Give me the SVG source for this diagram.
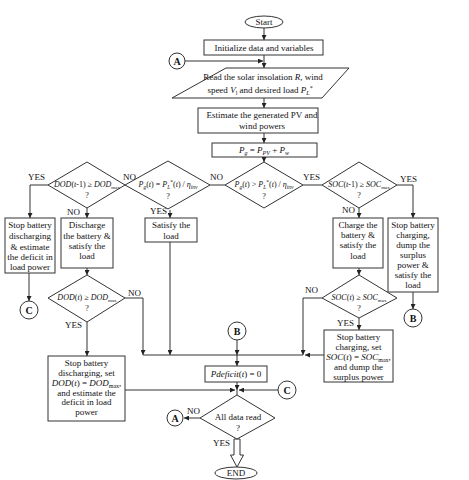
<svg xmlns="http://www.w3.org/2000/svg" width="469" height="480" viewBox="0 0 469 480">
<defs>
<marker id="ah" viewBox="0 0 6 6" refX="6" refY="3" markerWidth="5" markerHeight="5" orient="auto" markerUnits="userSpaceOnUse"><path d="M0,0 L6,3 L0,6 z" fill="#222"/></marker>
<style>
.box{fill:#fff;stroke:#333;stroke-width:1}
.ln{fill:none;stroke:#333;stroke-width:1}
.t{font-family:"Liberation Serif",serif;font-size:9px;text-anchor:middle;fill:#111}
.m{font-family:"Liberation Serif",serif;font-size:8px;text-anchor:middle;fill:#111}
.i{font-style:italic}
.lb{font-family:"Liberation Serif",serif;font-size:9px;fill:#111}
.c{font-family:"Liberation Serif",serif;font-size:10px;font-weight:bold;text-anchor:middle;fill:#111}
</style>
</defs>
<rect width="469" height="480" fill="#fff"/>

<g id="connectors">
<path class="ln" d="M264,28 V40" marker-end="url(#ah)"/>
<path class="ln" d="M264,55 V68" marker-end="url(#ah)"/>
<path class="ln" d="M185,61 H263" marker-end="url(#ah)"/>
<path class="ln" d="M264,98 V108" marker-end="url(#ah)"/>
<path class="ln" d="M264,133 V143" marker-end="url(#ah)"/>
<path class="ln" d="M264,157 V162" marker-end="url(#ah)"/>
<path class="ln" d="M225,185 H210"/>
<path class="ln" d="M48,185 H30 V218" marker-end="url(#ah)"/>
<path class="ln" d="M87,208 V218" marker-end="url(#ah)"/>
<path class="ln" d="M29,273 V301" marker-end="url(#ah)"/>
<path class="ln" d="M87,268 V275" marker-end="url(#ah)"/>
<path class="ln" d="M125,298 H143 V355" marker-end="url(#ah)"/>
<path class="ln" d="M87,322 V356" marker-end="url(#ah)"/>
<path class="ln" d="M170,210 V218" marker-end="url(#ah)"/>
<path class="ln" d="M170,242 V355" marker-end="url(#ah)"/>
<path class="ln" d="M303,185 H322"/>
<path class="ln" d="M397,185 H413 V218" marker-end="url(#ah)"/>
<path class="ln" d="M359,208 V218" marker-end="url(#ah)"/>
<path class="ln" d="M359,268 V275" marker-end="url(#ah)"/>
<path class="ln" d="M322,298 H303 V355" marker-end="url(#ah)"/>
<path class="ln" d="M359,318 V330" marker-end="url(#ah)"/>
<path class="ln" d="M324,355 H305" marker-end="url(#ah)"/>
<path class="ln" d="M143,355 H303"/>
<path class="ln" d="M413,292 V309" marker-end="url(#ah)"/>
<path class="ln" d="M237,340 V355" marker-end="url(#ah)"/>
<path class="ln" d="M237,355 V366" marker-end="url(#ah)"/>
<path class="ln" d="M237,382 V390" marker-end="url(#ah)"/>
<path class="ln" d="M237,390 V395"/>
<path class="ln" d="M125,390 H235" marker-end="url(#ah)"/>
<path class="ln" d="M278,390 H239" marker-end="url(#ah)"/>
<path class="ln" d="M200,418 H184" marker-end="url(#ah)"/>
<path class="box" d="M234,439 H240 V455 H243.5 L237,467 L230.5,455 H234 Z"/>
</g>

<g id="start"><ellipse class="box" cx="264" cy="22" rx="19" ry="6"/><text class="t" x="264" y="25">Start</text></g>
<g id="init"><rect class="box" x="204" y="40" width="119" height="15"/><text class="t" x="264" y="50.5">Initialize data and variables</text></g>
<g id="connA1"><circle class="box" cx="177" cy="61" r="8"/><text class="c" x="177" y="64.5">A</text></g>
<g id="read"><path class="box" d="M226,68 H349 L322,98 H172 Z"/>
<text class="t" x="263" y="80">Read the solar insolation <tspan class="i">R</tspan>, wind</text>
<text class="t" x="260" y="93">speed <tspan class="i">V</tspan><tspan font-size="6" dy="1.5">l</tspan><tspan dy="-1.5"> and desired load </tspan><tspan class="i">P</tspan><tspan font-size="6" class="i" dy="2">L</tspan><tspan font-size="6" dy="-5">*</tspan></text></g>
<g id="estimate"><rect class="box" x="198" y="108" width="120" height="25"/><text class="t" x="262" y="118">Estimate the generated PV and</text><text class="t" x="262" y="129">wind powers</text></g>
<g id="pg"><rect class="box" x="212" y="143" width="105" height="14"/><text class="t" x="264" y="153"><tspan class="i">P</tspan><tspan class="i" font-size="6" dy="2">g</tspan><tspan dy="-2"> = </tspan><tspan class="i">P</tspan><tspan class="i" font-size="6" dy="2">PV</tspan><tspan dy="-2"> + </tspan><tspan class="i">P</tspan><tspan class="i" font-size="6" dy="2">w</tspan></text></g>

<g id="d1"><path class="box" d="M87,162 L125,185 L87,208 L48,185 Z"/><text class="m" x="87" y="187"><tspan class="i">DOD</tspan>(<tspan class="i">t</tspan>-1) ≥ <tspan class="i">DOD</tspan><tspan font-size="5" dy="1.5">max</tspan></text><text class="m" x="87" y="198">?</text></g>
<g id="d2"><path class="box" d="M168,161 L210,185 L168,209 L125,185 Z"/><text class="m" x="168" y="187"><tspan class="i">P</tspan><tspan class="i" font-size="5.5" dy="2">g</tspan><tspan dy="-2">(</tspan><tspan class="i">t</tspan>) = <tspan class="i">P</tspan><tspan class="i" font-size="5.5" dy="2">L</tspan><tspan font-size="5.5" dy="-5">*</tspan><tspan dy="3">(</tspan><tspan class="i">t</tspan>) / <tspan class="i">η</tspan><tspan class="i" font-size="5.5" dy="2">inv</tspan></text><text class="m" x="168" y="199">?</text></g>
<g id="d3"><path class="box" d="M264,162 L303,185 L264,208 L225,185 Z"/><text class="m" x="264" y="187"><tspan class="i">P</tspan><tspan class="i" font-size="5.5" dy="2">g</tspan><tspan dy="-2">(</tspan><tspan class="i">t</tspan>) &gt; <tspan class="i">P</tspan><tspan class="i" font-size="5.5" dy="2">L</tspan><tspan font-size="5.5" dy="-5">*</tspan><tspan dy="3">(</tspan><tspan class="i">t</tspan>) / <tspan class="i">η</tspan><tspan class="i" font-size="5.5" dy="2">inv</tspan></text><text class="m" x="264" y="199">?</text></g>
<g id="d4"><path class="box" d="M359,162 L397,185 L359,208 L322,185 Z"/><text class="m" x="359" y="187"><tspan class="i">SOC</tspan>(<tspan class="i">t</tspan>-1) ≥ <tspan class="i">SOC</tspan><tspan font-size="5" dy="1.5">max</tspan></text><text class="m" x="359" y="198">?</text></g>

<g id="stopdis"><rect class="box" x="5" y="218" width="50" height="55"/>
<text class="t" x="30" y="228">Stop battery</text><text class="t" x="30" y="239">discharging</text><text class="t" x="30" y="250">&amp; estimate</text><text class="t" x="30" y="260">the deficit in</text><text class="t" x="30" y="270">load power</text></g>
<g id="discharge"><rect class="box" x="61" y="218" width="52" height="50"/>
<text class="t" x="87" y="228">Discharge</text><text class="t" x="87" y="239">the battery &amp;</text><text class="t" x="87" y="249">satisfy the</text><text class="t" x="87" y="259">load</text></g>
<g id="satisfy"><rect class="box" x="145" y="218" width="52" height="24"/><text class="t" x="171" y="228">Satisfy the</text><text class="t" x="171" y="239">load</text></g>
<g id="charge"><rect class="box" x="333" y="218" width="50" height="50"/>
<text class="t" x="358" y="228">Charge the</text><text class="t" x="358" y="238">battery &amp;</text><text class="t" x="358" y="248">satisfy the</text><text class="t" x="358" y="259">load</text></g>
<g id="stopchg"><rect class="box" x="388" y="218" width="50" height="74"/>
<text class="t" x="413" y="228">Stop battery</text><text class="t" x="413" y="238">charging,</text><text class="t" x="413" y="248">dump the</text><text class="t" x="413" y="258">surplus</text><text class="t" x="413" y="268">power &amp;</text><text class="t" x="413" y="278">satisfy the</text><text class="t" x="413" y="288">load</text></g>

<g id="connC1"><circle class="box" cx="29" cy="310" r="9"/><text class="c" x="29" y="313.5">C</text></g>
<g id="d6"><path class="box" d="M87,275 L125,298 L87,322 L48,298 Z"/><text class="m" x="87" y="300"><tspan class="i">DOD</tspan>(<tspan class="i">t</tspan>) ≥ <tspan class="i">DOD</tspan><tspan font-size="5" dy="1.5">max</tspan></text><text class="m" x="87" y="311">?</text></g>
<g id="d5"><path class="box" d="M359,275 L397,298 L359,318 L322,298 Z"/><text class="m" x="359" y="300"><tspan class="i">SOC</tspan>(<tspan class="i">t</tspan>) ≥ <tspan class="i">SOC</tspan><tspan font-size="5" dy="1.5">max</tspan></text><text class="m" x="359" y="311">?</text></g>
<g id="connB2"><circle class="box" cx="413" cy="318" r="9"/><text class="c" x="413" y="321.5">B</text></g>
<g id="connB1"><circle class="box" cx="237" cy="331" r="9"/><text class="c" x="237" y="334.5">B</text></g>

<g id="stopdisset"><rect class="box" x="48" y="356" width="77" height="65"/>
<text class="t" x="86.5" y="366">Stop battery</text><text class="t" x="86.5" y="376">discharging, set</text>
<text class="t" x="86.5" y="386"><tspan class="i">DOD</tspan>(<tspan class="i">t</tspan>) = <tspan class="i">DOD</tspan><tspan font-size="6" dy="1.5">max</tspan><tspan dy="-1.5">,</tspan></text>
<text class="t" x="86.5" y="396">and estimate the</text><text class="t" x="86.5" y="405">deficit in load</text><text class="t" x="86.5" y="415">power</text></g>
<g id="stopchgset"><rect class="box" x="324" y="330" width="69" height="52"/>
<text class="t" x="358.5" y="340">Stop battery</text><text class="t" x="358.5" y="350">charging, set</text>
<text class="t" x="358.5" y="360"><tspan class="i">SOC</tspan>(<tspan class="i">t</tspan>) = <tspan class="i">SOC</tspan><tspan font-size="6" dy="1.5">max</tspan><tspan dy="-1.5">,</tspan></text>
<text class="t" x="358.5" y="370">and dump the</text><text class="t" x="358.5" y="380">surplus power</text></g>
<g id="deficit"><rect class="box" x="205" y="366" width="62" height="16"/><text class="t" x="236" y="377"><tspan class="i">Pdeficit</tspan>(<tspan class="i">t</tspan>) = 0</text></g>
<g id="connC2"><circle class="box" cx="287" cy="390" r="9"/><text class="c" x="287" y="393.5">C</text></g>
<g id="d7"><path class="box" d="M237,395 L275,418 L237,439 L200,418 Z"/><text class="t" x="238" y="420">All data read</text><text class="t" x="238" y="431">?</text></g>
<g id="connA2"><circle class="box" cx="175" cy="418" r="8"/><text class="c" x="175" y="421.5">A</text></g>
<g id="end"><ellipse class="box" cx="236" cy="473" rx="21" ry="6"/><text class="t" x="236" y="476">END</text></g>

<g id="labels">
<text class="lb" x="28" y="180">YES</text>
<text class="lb" x="123" y="180">NO</text>
<text class="lb" x="210" y="180">NO</text>
<text class="lb" x="303" y="180">YES</text>
<text class="lb" x="400" y="182">YES</text>
<text class="lb" x="67" y="215">NO</text>
<text class="lb" x="150" y="214">YES</text>
<text class="lb" x="342" y="213">NO</text>
<text class="lb" x="128" y="296">NO</text>
<text class="lb" x="65" y="328">YES</text>
<text class="lb" x="305" y="293">NO</text>
<text class="lb" x="337" y="326">YES</text>
<text class="lb" x="187" y="414">NO</text>
<text class="lb" x="213" y="446">YES</text>
</g>
</svg>
